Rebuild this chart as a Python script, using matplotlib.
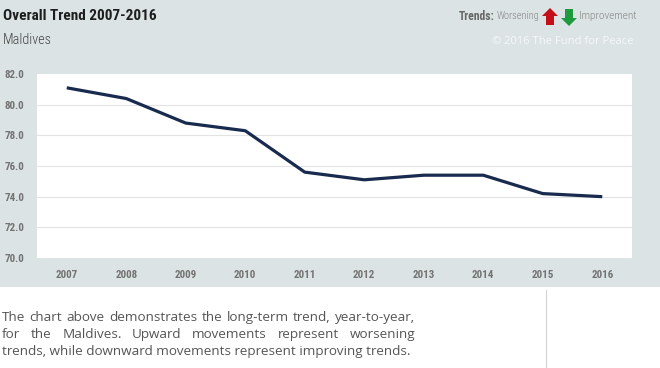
import matplotlib
matplotlib.use("Agg")
import os
import matplotlib.pyplot as plt
from matplotlib.patches import Rectangle, Polygon
from matplotlib import font_manager
from matplotlib.font_manager import FontProperties

years = [2007, 2008, 2009, 2010, 2011, 2012, 2013, 2014, 2015, 2016]
scores = [81.1, 80.4, 78.8, 78.3, 75.6, 75.1, 75.4, 75.4, 74.2, 74.0]
y_ticks = [70.0, 72.0, 74.0, 76.0, 78.0, 80.0, 82.0]
title = "Overall Trend 2007-2016"
subtitle = "Maldives"
para_lines = [
    "The chart above demonstrates the long-term trend, year-to-year,",
    "for the Maldives. Upward movements represent worsening",
    "trends, while downward movements represent improving trends.",
]

FILES = [f.fname for f in font_manager.fontManager.ttflist]


def find_font(*names):
    for nm in names:
        for fn in FILES:
            if os.path.basename(fn).lower() == nm:
                return fn
    return None


def find_sub(*groups):
    for pats in groups:
        for fn in FILES:
            b = os.path.basename(fn).lower()
            if all(p in b for p in pats):
                return fn
    return None


cond_bold_f = find_font("opensanscondensed-bold.ttf", "opensans_condensed-bold.ttf",
                        "robotocondensed-bold.ttf", "ptsansnarrow-bold.ttf",
                        "pt_sans-narrow-web-bold.ttf", "asapcondensed-bold.ttf",
                        "dejavusanscondensed-bold.ttf")
cond_reg_f = find_font("opensanscondensed-light.ttf", "opensans_condensed-light.ttf",
                       "robotocondensed-regular.ttf", "ptsansnarrow-regular.ttf",
                       "pt_sans-narrow-web-regular.ttf", "asapcondensed-regular.ttf",
                       "dejavusanscondensed.ttf")
cond_light_f = find_font("opensanscondensed-light.ttf", "opensans_condensed-light.ttf",
                         "robotocondensed-light.ttf", "asapcondensed-light.ttf") or cond_reg_f
body_f = find_sub(("opensans-regular",), ("opensans[",), ("opensans",), ("dejavusans.ttf",))


def fp(fname, size):
    if fname:
        return FontProperties(fname=fname, size=size)
    return FontProperties(family="DejaVu Sans", size=size)


W, H = 660, 368
fig = plt.figure(figsize=(W / 100, H / 100), dpi=100)
fig.patch.set_facecolor("white")
renderer = fig.canvas.get_renderer()


def fx(px):
    return px / W


def fy(py):
    return 1 - py / H


def fit_size(text, fname, target_w, base=10):
    t = fig.text(0, 0, text, fontproperties=fp(fname, base))
    w = t.get_window_extent(renderer).width
    t.remove()
    return base * target_w / w


bg = "#dce3e5"
fig.add_artist(Rectangle((0, fy(287)), 1, 287 / H, transform=fig.transFigure,
                         facecolor=bg, edgecolor="none", zorder=0))
fig.add_artist(plt.Line2D([fx(546), fx(546)], [fy(290), 0], transform=fig.transFigure,
                          color="#d4d4d4", lw=0.8))

ax = fig.add_axes([fx(37), fy(258), fx(632) - fx(37), (258 - 74) / H])
ax.set_facecolor("white")
ax.plot(years, scores, color="#182a4e", lw=2.3, solid_capstyle="butt",
        solid_joinstyle="round", zorder=3)
ax.set_xlim(2006.5, 2016.5)
ax.set_ylim(70, 82)
ax.set_yticks(y_ticks)
ax.set_yticklabels([f"{v:.1f}" for v in y_ticks])
ax.set_xticks(years)
ax.set_xticklabels([str(y) for y in years])
for s in ax.spines.values():
    s.set_visible(False)
ax.tick_params(length=0, colors="#737373")
ax.tick_params(axis="x", pad=9)
ax.tick_params(axis="y", pad=9)
tick_size = fit_size("82.0", cond_bold_f, 20)
for lab in ax.get_xticklabels() + ax.get_yticklabels():
    lab.set_fontproperties(fp(cond_bold_f, tick_size))
for v in y_ticks[1:-1]:
    ax.axhline(v, color="#e3e3e3", lw=0.8, zorder=1)

fig.text(fx(3), fy(16), title, fontproperties=fp(cond_bold_f, fit_size(title, cond_bold_f, 154)),
         color="#1e1e1e", va="center", ha="left")
fig.text(fx(3), fy(40), subtitle,
         fontproperties=fp(cond_light_f, fit_size(subtitle, cond_light_f, 49)),
         color="#454545", va="center", ha="left")

# trends legend
fig.text(fx(459), fy(16), "Trends:",
         fontproperties=fp(cond_bold_f, fit_size("Trends:", cond_bold_f, 36)),
         color="#676767", va="center", ha="left")
fig.text(fx(497), fy(16), "Worsening",
         fontproperties=fp(cond_light_f, fit_size("Worsening", cond_light_f, 43)),
         color="#858585", va="center", ha="left")
fig.text(fx(579), fy(16), "Improvement",
         fontproperties=fp(cond_light_f, fit_size("Improvement", cond_light_f, 58)),
         color="#858585", va="center", ha="left")


def arrow(cx, top, bottom, up, color):
    hw, sw = 8, 4
    if up:
        head_y = top + 8
        pts = [(cx, top), (cx + hw, head_y), (cx + sw, head_y), (cx + sw, bottom),
               (cx - sw, bottom), (cx - sw, head_y), (cx - hw, head_y)]
    else:
        head_y = bottom - 8
        pts = [(cx, bottom), (cx + hw, head_y), (cx + sw, head_y), (cx + sw, top),
               (cx - sw, top), (cx - sw, head_y), (cx - hw, head_y)]
    fig.add_artist(Polygon([(fx(x), fy(y)) for x, y in pts], closed=True,
                           transform=fig.transFigure, facecolor=color, edgecolor="none"))


arrow(550, 8, 25, True, "#c40f18")
arrow(569, 9, 26, False, "#1f9a3e")

copy_txt = "\u00a9 2016 The Fund for Peace"
fig.text(fx(492), fy(42), copy_txt,
         fontproperties=fp(body_f, fit_size(copy_txt, body_f, 143)),
         color="#f5f8f9", va="center", ha="left")

# justified paragraph (baseline-aligned)
left_px = 2
right_px = [415, 415]
baselines = [321, 338, 355]
size = fit_size(para_lines[2], body_f, 408)
for i, (line, yy) in enumerate(zip(para_lines, baselines)):
    if i == len(para_lines) - 1:
        fig.text(fx(left_px), fy(yy), line, fontproperties=fp(body_f, size), color="#555555",
                 va="baseline", ha="left")
        continue
    words = line.split(" ")
    texts = [fig.text(0, fy(yy), w, fontproperties=fp(body_f, size), color="#555555",
                      va="baseline", ha="left") for w in words]
    widths = [tt.get_window_extent(renderer).width for tt in texts]
    gap = (right_px[i] - left_px - sum(widths)) / (len(words) - 1)
    gap = max(gap, 2.5)
    x = left_px
    for tt, w in zip(texts, widths):
        tt.set_x(fx(x))
        x += w + gap

fig.savefig("out.png", dpi=100, facecolor=fig.get_facecolor())
